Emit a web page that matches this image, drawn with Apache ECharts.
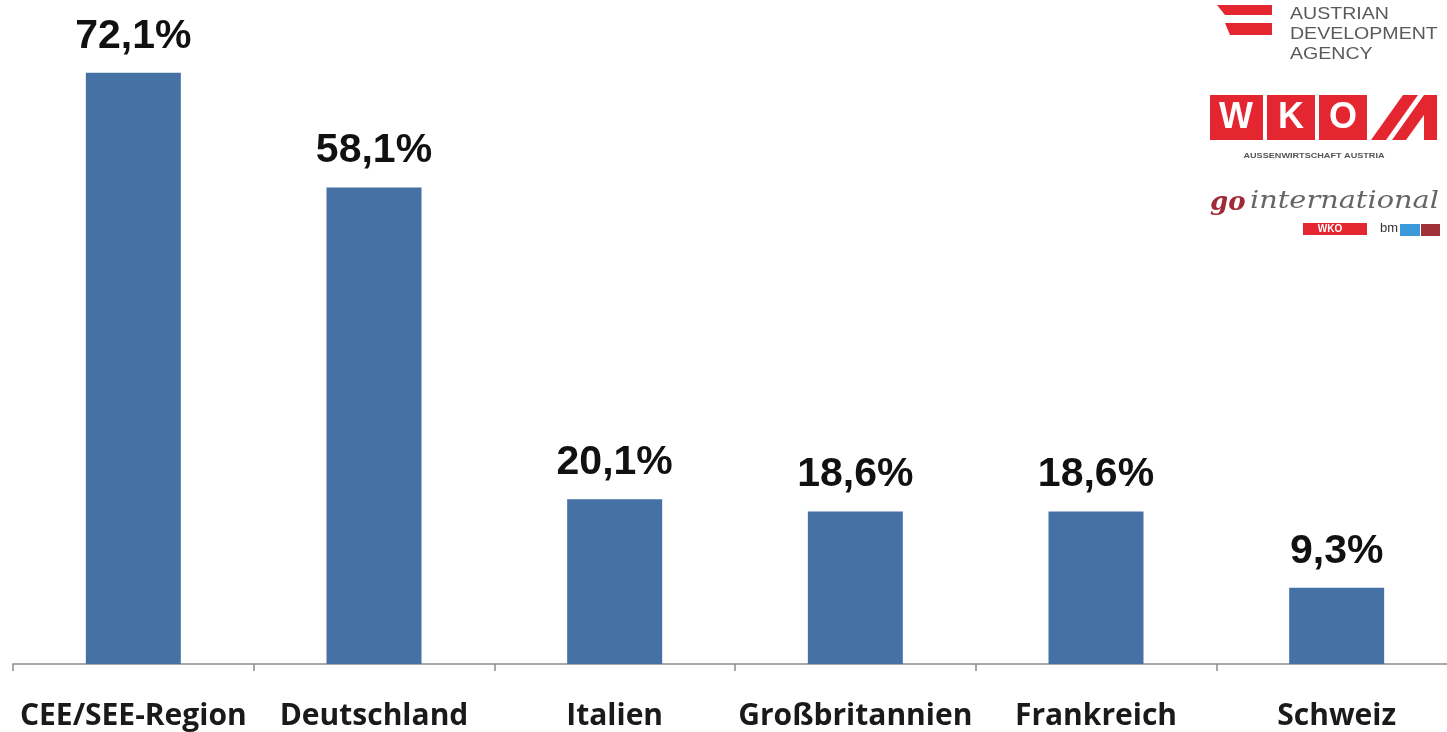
<!DOCTYPE html>
<html><head><meta charset="utf-8">
<script src="https://cdn.jsdelivr.net/npm/echarts@6/dist/echarts.min.js"></script>
<style>html,body{margin:0;padding:0;background:#fff;overflow:hidden;width:1447px;height:732px}#c{width:1457px;height:732px}</style>
</head><body><div id="c"></div>
<script>
const categories = ['CEE/SEE-Region', 'Deutschland', 'Italien', 'Großbritannien', 'Frankreich', 'Schweiz'];
const values = [72.1, 58.1, 20.1, 18.6, 18.6, 9.3];

const red = '#e3262f';
const chart = echarts.init(document.getElementById('c'));
chart.setOption({
  animation: false,
  backgroundColor: '#fff',
  grid: { left: 13, right: 0, top: 8, bottom: 68, containLabel: false },
  xAxis: {
    type: 'category', data: categories,
    axisLine: { lineStyle: { color: '#8c8c8c', width: 1.5 } },
    axisTick: { show: true, length: 7, lineStyle: { color: '#8c8c8c', width: 1.5 } },
    axisLabel: { interval: 0, margin: 37, fontFamily: 'Open Sans', fontWeight: 'bold', fontSize: 30, color: '#1a1a1a' }
  },
  yAxis: { type: 'value', min: 0, max: 80, show: false, splitLine: { show: false } },
  series: [{
    type: 'bar', data: values, barWidth: 95,
    itemStyle: { color: '#4571a4' },
    label: {
      show: true, position: 'top', distance: 16,
      fontFamily: 'Liberation Sans', fontWeight: 'bold', fontSize: 41, color: '#111',
      formatter: p => p.value.toFixed(1).replace('.', ',') + '%'
    }
  }],
  graphic: [
    // Austrian Development Agency
    { type: 'polygon', shape: { points: [[1217,5],[1272,5],[1272,15],[1225,15]] }, style: { fill: red } },
    { type: 'polygon', shape: { points: [[1225,23],[1272,23],[1272,35],[1230,35]] }, style: { fill: red } },
    { type: 'text', x: 1290, y: 4, scaleX: 1.15, originX: 0, style: { text: 'AUSTRIAN\nDEVELOPMENT\nAGENCY', fontFamily: 'Liberation Sans', fontSize: 17, lineHeight: 20, fill: '#5a5a5a' } },
    // WKO
    { type: 'rect', shape: { x: 1210, y: 95, width: 53, height: 45 }, style: { fill: red } },
    { type: 'rect', shape: { x: 1267, y: 95, width: 48, height: 45 }, style: { fill: red } },
    { type: 'rect', shape: { x: 1319, y: 95, width: 48, height: 45 }, style: { fill: red } },
    { type: 'text', x: 1236, y: 118, style: { text: 'W', fontFamily: 'Liberation Sans', fontWeight: 'bold', fontSize: 36, fill: '#fff', align: 'center', verticalAlign: 'middle' } },
    { type: 'text', x: 1291, y: 118, style: { text: 'K', fontFamily: 'Liberation Sans', fontWeight: 'bold', fontSize: 36, fill: '#fff', align: 'center', verticalAlign: 'middle' } },
    { type: 'text', x: 1343, y: 118, style: { text: 'O', fontFamily: 'Liberation Sans', fontWeight: 'bold', fontSize: 36, fill: '#fff', align: 'center', verticalAlign: 'middle' } },
    { type: 'polygon', shape: { points: [[1371,140],[1386,140],[1418,95],[1403,95]] }, style: { fill: red } },
    { type: 'polygon', shape: { points: [[1392,140],[1437,140],[1437,95],[1424,95]] }, style: { fill: red } },
    { type: 'polygon', shape: { points: [[1406,140],[1424,140],[1424,115]] }, style: { fill: '#fff' } },
    { type: 'text', x: 1314, y: 156, scaleX: 1.3, originX: 0, style: { text: 'AUSSENWIRTSCHAFT AUSTRIA', fontFamily: 'Liberation Sans', fontWeight: 'bold', fontSize: 7, fill: '#555', align: 'center', verticalAlign: 'middle' } },
    // go international
    { type: 'text', x: 1210, y: 190, style: { text: 'go', fontFamily: 'DejaVu Serif', fontStyle: 'italic', fontWeight: 'bold', fontSize: 26, fill: '#a02a35' } },
    { type: 'text', x: 1250, y: 190, scaleX: 1.2, originX: 0, style: { text: 'international', fontFamily: 'DejaVu Serif', fontStyle: 'italic', fontSize: 24, fill: '#666' } },
    { type: 'rect', shape: { x: 1303, y: 223, width: 64, height: 12 }, style: { fill: red } },
    { type: 'text', x: 1330, y: 229, style: { text: 'WKO', fontFamily: 'Liberation Sans', fontWeight: 'bold', fontSize: 10, fill: '#fff', align: 'center', verticalAlign: 'middle' } },
    { type: 'text', x: 1380, y: 222, style: { text: 'bm', fontFamily: 'Liberation Sans', fontSize: 13, fill: '#333' } },
    { type: 'rect', shape: { x: 1400, y: 224, width: 20, height: 12 }, style: { fill: '#3a9ad9' } },
    { type: 'rect', shape: { x: 1421, y: 224, width: 19, height: 12 }, style: { fill: '#a0303a' } }
  ]
});
</script></body></html>
